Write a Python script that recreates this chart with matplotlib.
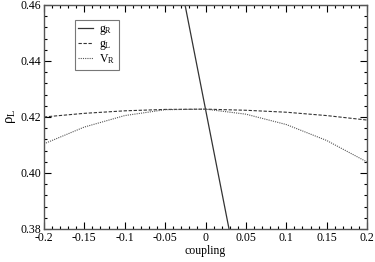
import matplotlib
matplotlib.use('Agg')
import matplotlib.pyplot as plt
from matplotlib.ticker import MultipleLocator

plt.rcParams['font.family'] = ['Liberation Serif', 'DejaVu Serif']
plt.rcParams['mathtext.fontset'] = 'custom'
plt.rcParams['mathtext.rm'] = 'Liberation Serif'
plt.rcParams['mathtext.it'] = 'Liberation Serif'
plt.rcParams['mathtext.default'] = 'regular'
plt.rcParams['font.size'] = 8.5

# data
coupling = [-0.2, -0.15, -0.1, -0.05, 0.0, 0.05, 0.1, 0.15, 0.2]
rho_gL = [0.4200, 0.4213, 0.4222, 0.4227, 0.4228, 0.4224, 0.4217, 0.4205, 0.4189]
rho_VR = [0.4104, 0.4164, 0.4205, 0.4226, 0.4228, 0.4210, 0.4173, 0.4116, 0.4039]
coupling_gR = [-0.03, 0.0, 0.03]
rho_gR = [0.4669, 0.4228, 0.3787]

fig = plt.figure(figsize=(3.75, 2.62), dpi=100)
ax = fig.add_axes([0.117, 0.126, 0.862, 0.855])

ax.plot(coupling_gR, rho_gR, color='#333333', lw=0.9, ls='-', label='g$_R$')
ax.plot(coupling, rho_gL, color='#333333', lw=0.8, ls=(0, (3, 1.5)), label='g$_L$')
ax.plot(coupling, rho_VR, color='#555555', lw=0.8, ls=(0, (1, 1)), label='V$_R$')

ax.set_xlim(-0.2, 0.2)
ax.set_ylim(0.38, 0.46)
ax.xaxis.set_minor_locator(MultipleLocator(0.01))
ax.yaxis.set_minor_locator(MultipleLocator(0.004))
ax.set_xticks([-0.2, -0.15, -0.1, -0.05, 0, 0.05, 0.1, 0.15, 0.2])
ax.set_xticklabels(['-0.2', '-0.15', '-0.1', '-0.05', '0', '0.05', '0.1', '0.15', '0.2'])
ax.set_yticks([0.38, 0.40, 0.42, 0.44, 0.46])
ax.set_yticklabels(['0.38', '0.40', '0.42', '0.44', '0.46'])
ax.tick_params(which='both', direction='in', top=True, right=True, width=0.8, pad=2)
ax.tick_params(which='major', length=5)
ax.tick_params(which='minor', length=2.5)
for s in ax.spines.values():
    s.set_linewidth(1.0)
    s.set_color('#555555')

ax.set_xlabel('coupling', labelpad=1)
ax.set_ylabel(r'$\rho_L$', labelpad=2, fontsize=10.5)

leg = ax.legend(loc='upper left', bbox_to_anchor=(0.095, 0.935), frameon=True, fancybox=False,
                edgecolor='#555555', handlelength=1.3, handletextpad=0.5, borderpad=0.3,
                labelspacing=0.05, fontsize=8.5, borderaxespad=0)
leg.get_frame().set_linewidth(0.8)

plt.savefig('out.png', dpi=100)
